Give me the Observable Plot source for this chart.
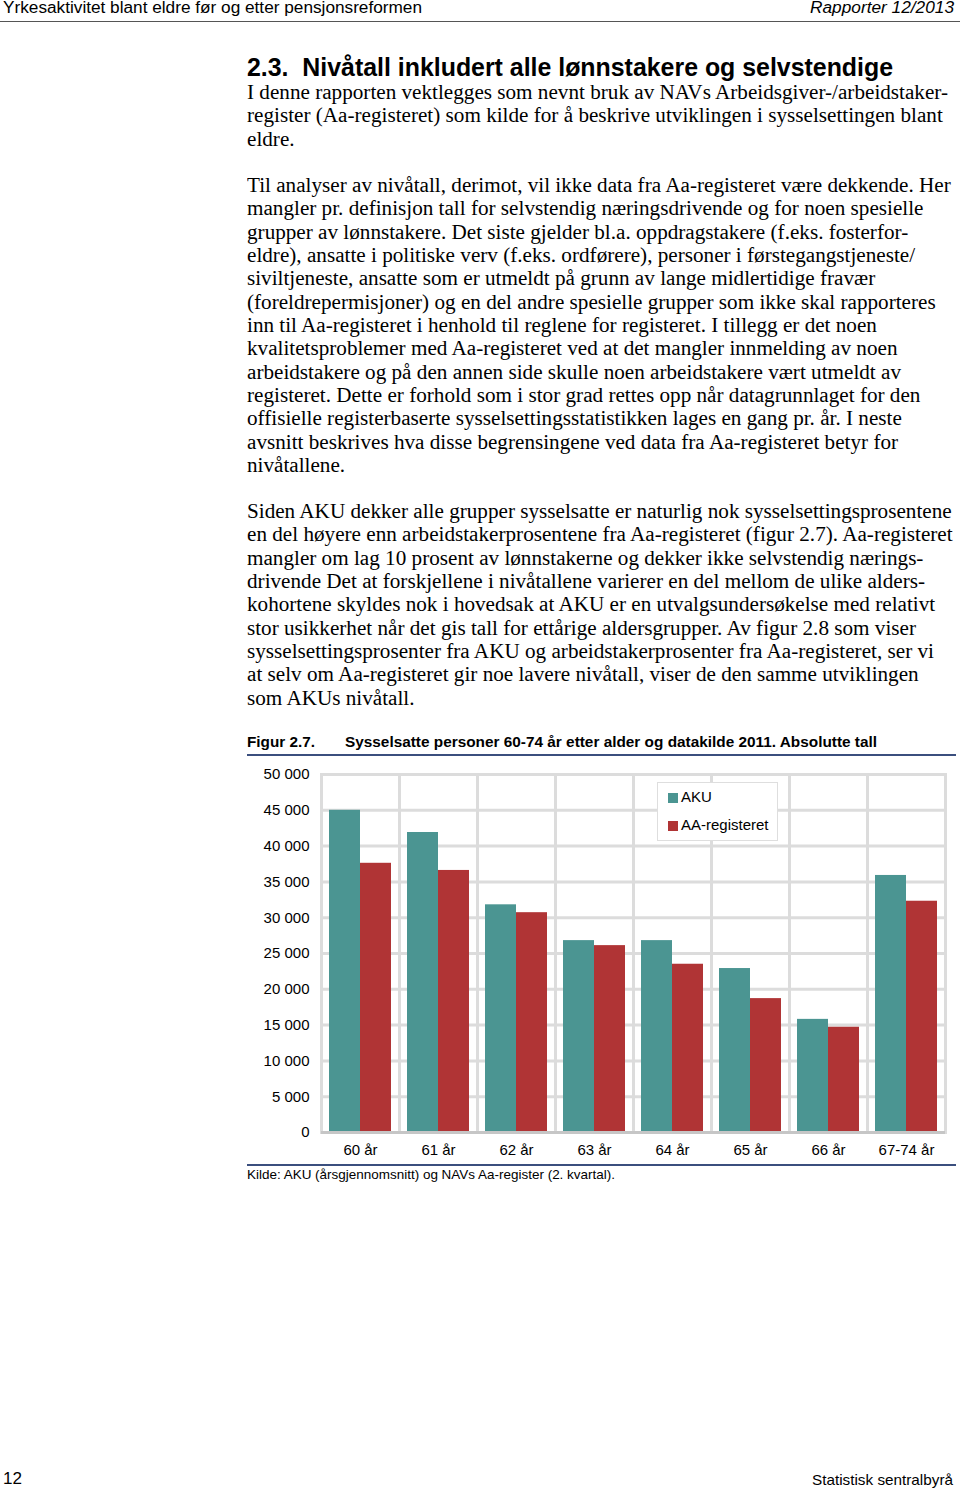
<!DOCTYPE html>
<html>
<head>
<meta charset="utf-8">
<script src="https://cdn.jsdelivr.net/npm/d3@7"></script>
<script src="https://cdn.jsdelivr.net/npm/@observablehq/plot@0.6"></script>
<style>
  html, body { margin: 0; padding: 0; background: #fff; }
  #page { position: relative; width: 960px; height: 1489px; overflow: hidden; background: #fff; color: #000; }
  .abs { position: absolute; white-space: nowrap; transform-origin: 0 0; }
  .sans { font-family: "Liberation Sans", Arial, sans-serif; }
  .serif { font-family: "Liberation Serif", "Times New Roman", serif; font-size: 20px; line-height: 23.33px; }
  .rule { position: absolute; }
  #legend { position: absolute; background: #fff; border: 1px solid #dedede; font-family: "Liberation Sans", Arial, sans-serif; font-size: 15px; }
  #legend .item { position: absolute; left: 10px; white-space: nowrap; }
  #legend .sw { display: inline-block; width: 10px; height: 10px; margin-right: 3px; vertical-align: -1px; }
</style>
</head>
<body>
<div id="page"></div>
<script>
// ---------------- data ----------------
const ages = ["60 år", "61 år", "62 år", "63 år", "64 år", "65 år", "66 år", "67-74 år"];
const akuValues = [45000, 41900, 31800, 26800, 26800, 22900, 15800, 35900];
const aaValues  = [37600, 36600, 30700, 26100, 23500, 18700, 14700, 32300];
const seriesNames = ["AKU", "AA-registeret"];
const seriesColors = ["#4b9592", "#b03435"];
const yTicks = [0, 5000, 10000, 15000, 20000, 25000, 30000, 35000, 40000, 45000, 50000];

const headerLeft = "Yrkesaktivitet blant eldre før og etter pensjonsreformen";
const headerRight = "Rapporter 12/2013";
const heading = "2.3.  Nivåtall inkludert alle lønnstakere og selvstendige";
const para1 = [
  "I denne rapporten vektlegges som nevnt bruk av NAVs Arbeidsgiver-/arbeidstaker-",
  "register (Aa-registeret) som kilde for å beskrive utviklingen i sysselsettingen blant",
  "eldre."
];
const para2 = [
  "Til analyser av nivåtall, derimot, vil ikke data fra Aa-registeret være dekkende. Her",
  "mangler pr. definisjon tall for selvstendig næringsdrivende og for noen spesielle",
  "grupper av lønnstakere. Det siste gjelder bl.a. oppdragstakere (f.eks. fosterfor-",
  "eldre), ansatte i politiske verv (f.eks. ordførere), personer i førstegangstjeneste/",
  "siviltjeneste, ansatte som er utmeldt på grunn av lange midlertidige fravær",
  "(foreldrepermisjoner) og en del andre spesielle grupper som ikke skal rapporteres",
  "inn til Aa-registeret i henhold til reglene for registeret. I tillegg er det noen",
  "kvalitetsproblemer med Aa-registeret ved at det mangler innmelding av noen",
  "arbeidstakere og på den annen side skulle noen arbeidstakere vært utmeldt av",
  "registeret. Dette er forhold som i stor grad rettes opp når datagrunnlaget for den",
  "offisielle registerbaserte sysselsettingsstatistikken lages en gang pr. år. I neste",
  "avsnitt beskrives hva disse begrensingene ved data fra Aa-registeret betyr for",
  "nivåtallene."
];
const para3 = [
  "Siden AKU dekker alle grupper sysselsatte er naturlig nok sysselsettingsprosentene",
  "en del høyere enn arbeidstakerprosentene fra Aa-registeret (figur 2.7). Aa-registeret",
  "mangler om lag 10 prosent av lønnstakerne og dekker ikke selvstendig nærings-",
  "drivende Det at forskjellene i nivåtallene varierer en del mellom de ulike alders-",
  "kohortene skyldes nok i hovedsak at AKU er en utvalgsundersøkelse med relativt",
  "stor usikkerhet når det gis tall for ettårige aldersgrupper. Av figur 2.8 som viser",
  "sysselsettingsprosenter fra AKU og arbeidstakerprosenter fra Aa-registeret, ser vi",
  "at selv om Aa-registeret gir noe lavere nivåtall, viser de den samme utviklingen",
  "som AKUs nivåtall."
];
const figLabel = "Figur 2.7.";
const figTitle = "Sysselsatte personer 60-74 år etter alder og datakilde 2011. Absolutte tall";
const sourceText = "Kilde: AKU (årsgjennomsnitt) og NAVs Aa-register (2. kvartal).";
const pageNumber = "12";
const publisher = "Statistisk sentralbyrå";

// ---------------- page helpers ----------------
const page = document.getElementById("page");
function addText(text, cls, left, top, styles = {}, fitWidth = null, alignRight = false) {
  const el = document.createElement("div");
  el.className = "abs " + cls;
  el.textContent = text;
  el.style.left = left + "px";
  el.style.top = top + "px";
  Object.assign(el.style, styles);
  page.appendChild(el);
  if (fitWidth) {
    const w = el.getBoundingClientRect().width;
    const s = fitWidth / w;
    el.style.transform = `scaleX(${s})`;
    if (alignRight) el.style.left = (left - fitWidth) + "px";
  } else if (alignRight) {
    const w = el.getBoundingClientRect().width;
    el.style.left = (left - w) + "px";
  }
  return el;
}
function addRule(left, top, width, height, color) {
  const r = document.createElement("div");
  r.className = "rule";
  Object.assign(r.style, { left: left + "px", top: top + "px", width: width + "px", height: height + "px", background: color });
  page.appendChild(r);
}

// header
addText(headerLeft, "sans", 3, -1, { fontSize: "16px", lineHeight: "18px" }, 419);
addText(headerRight, "sans", 954, -1, { fontSize: "16px", lineHeight: "18px", fontStyle: "italic" }, 144, true);
addRule(0, 21, 960, 1, "#555");

// heading
addText(heading, "sans", 247, 53, { fontSize: "25px", lineHeight: "28px", fontWeight: "bold", whiteSpace: "pre" }, 646);

// body text
const lineH = 23.33;
const probe = addText(para1[0], "serif", 247, 0);
const bodyScale = 701 / probe.getBoundingClientRect().width;
probe.remove();
function addPara(lines, firstCenter) {
  lines.forEach((t, i) => {
    const el = addText(t, "serif", 247, firstCenter + i * lineH - 12);
    el.style.transform = `scaleX(${bodyScale})`;
  });
}
addPara(para1, 93);
addPara(para2, 186);
addPara(para3, 512);

// figure title
addText(figLabel, "sans", 247, 733, { fontSize: "15px", lineHeight: "18px", fontWeight: "bold" }, 68);
addText(figTitle, "sans", 345, 733, { fontSize: "15px", lineHeight: "18px", fontWeight: "bold" }, 532);
addRule(247, 754, 709, 2, "#3b4f7e");

// ---------------- chart ----------------
const data = ages.flatMap((a, i) => [
  { age: a, series: seriesNames[0], value: akuValues[i] },
  { age: a, series: seriesNames[1], value: aaValues[i] }
]);
const fmt = d => d3.format(",")(d).replace(/,/g, " ");

const chart = Plot.plot({
  width: 713,
  height: 405,
  marginLeft: 73,
  marginRight: 14,
  marginTop: 14,
  marginBottom: 33,
  style: { fontFamily: "Liberation Sans, Arial, sans-serif", fontSize: "15px", color: "#000", background: "transparent", overflow: "visible" },
  fx: { domain: ages, padding: 0, label: null, axis: "bottom", tickSize: 0, tickPadding: 12 },
  x: { domain: seriesNames, axis: null, paddingInner: 0, paddingOuter: 0.24 },
  y: { domain: [0, 50000], ticks: yTicks, tickFormat: fmt, label: null, tickSize: 0, tickPadding: 12 },
  color: { domain: seriesNames, range: seriesColors },
  marks: [
    Plot.gridY(yTicks, { stroke: "#dcdcdc", strokeWidth: 3, strokeOpacity: 1 }),
    Plot.frame({ stroke: "#dcdcdc", strokeWidth: 3 }),
    Plot.barY(data, { fx: "age", x: "series", y: "value", fill: "series" }),
    Plot.ruleY([0], { stroke: "#c6c6c6", strokeWidth: 3 })
  ]
});
chart.style.position = "absolute";
chart.style.left = "247px";
chart.style.top = "760px";
page.appendChild(chart);

// legend (inside plot area)
const legend = document.createElement("div");
legend.id = "legend";
Object.assign(legend.style, { left: "657px", top: "782px", width: "119px", height: "57px" });
seriesNames.forEach((name, i) => {
  const it = document.createElement("div");
  it.className = "item";
  it.style.top = (5 + i * 28) + "px";
  const sw = document.createElement("span");
  sw.className = "sw";
  sw.style.background = seriesColors[i];
  it.appendChild(sw);
  it.appendChild(document.createTextNode(name));
  legend.appendChild(it);
});
page.appendChild(legend);

addRule(247, 1164, 709, 2, "#3b4f7e");
addText(sourceText, "sans", 247, 1167, { fontSize: "13px", lineHeight: "16px" }, 368);

// footer
addText(pageNumber, "sans", 3, 1470, { fontSize: "16px", lineHeight: "18px" }, 19);
addText(publisher, "sans", 953, 1471, { fontSize: "15px", lineHeight: "18px" }, 141, true);
</script>
</body>
</html>
